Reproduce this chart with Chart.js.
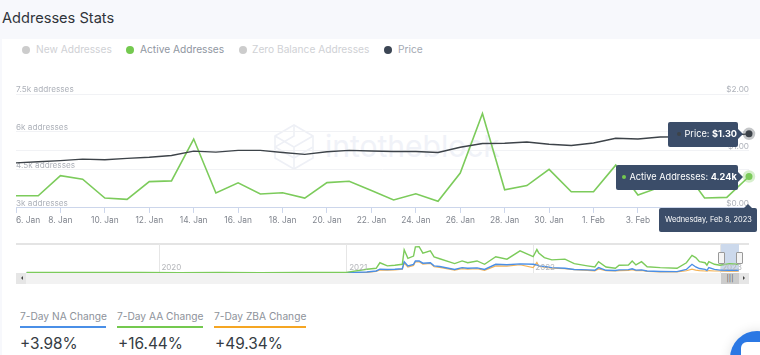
<!DOCTYPE html>
<html>
<head>
<meta charset="utf-8">
<script src="https://cdn.jsdelivr.net/npm/chart.js@4"></script>
<style>
  html, body { margin: 0; padding: 0; width: 760px; height: 355px; overflow: hidden; background: #fff;
    font-family: Inter, "Noto Sans", sans-serif; }
  .abs { position: absolute; white-space: nowrap; }
  .band { position: absolute; left: 0; top: 0; width: 760px; height: 39px; background: #f7f8fc; }
  .strip { position: absolute; left: 0; top: 0; width: 2px; height: 355px; background: #f7f8fc; }
  .title { left: 2px; top: 8px; font-size: 14.6px; line-height: 20px; color: #2f343a; }
  .leg { top: 43px; font-size: 10.2px; line-height: 13px; }
  .dot { position: absolute; top: 45.5px; width: 8px; height: 8px; border-radius: 50%; }
  .mark { left: 325px; top: 128px; font-size: 30px; line-height: 36px; color: #f0f2f8; }
  .tip { position: absolute; background: #3b4d69; border-radius: 2px; color: #fff; font-size: 9.2px;
    line-height: 24px; white-space: nowrap; box-sizing: border-box; }
  .tip b { font-weight: 700; }
  .tip:after { content: ""; position: absolute; border: 5px solid transparent; }
  .tip.r:after { left: 100%; top: 7px; border-left-color: #3b4d69; }
  .tip.u:after { right: 4px; top: -9px; border-bottom-color: #3b4d69; }
  .bul { display: inline-block; width: 4px; height: 4px; border-radius: 50%; margin-right: 4px; vertical-align: 1px; }
  canvas { position: absolute; left: 0; display: block; }
  .frame { position: absolute; left: 16px; top: 243px; width: 733px; height: 1.5px; background: #e4e4e4; }
  .sel { position: absolute; left: 721px; top: 244px; width: 18px; height: 28px; background: #ccd9ec; }
  .handle { position: absolute; top: 252px; width: 5px; height: 10px; background: #f4f4f4; border: 1px solid #999; border-radius: 1px; z-index: 3; }
  .scroll { position: absolute; left: 16px; top: 272.5px; width: 733px; height: 11px; background: #f2f2f2; }
  .sbtn { position: absolute; top: 272.5px; width: 10px; height: 11px; background: #e6e6e6; }
  .thumb { position: absolute; left: 721px; top: 272.5px; width: 18px; height: 11px; background: #cccccc;
    color: #555; font-size: 7px; line-height: 11px; text-align: center; letter-spacing: 0; }
  .tri { position: absolute; top: 275.5px; border: 2.5px solid transparent; }
  .sl { top: 309px; font-size: 10.2px; line-height: 14px; color: #8d929a; }
  .ul { position: absolute; top: 326px; height: 2px; }
  .sv { top: 333px; font-size: 15.4px; line-height: 21px; color: #363c43; }
  .bubble { position: absolute; left: 730px; top: 331px; width: 54px; height: 54px; border-radius: 50%;
    background: #2b78e4; box-shadow: 0 0 12px rgba(0,0,0,.12); }
  .bubble i { position: absolute; left: 11px; top: 11px; width: 30px; height: 26px; background: #fff; border-radius: 6px; }
</style>
</head>
<body>
<div class="band"></div>
<div class="strip"></div>
<div class="abs title">Addresses Stats</div>

<div class="dot" style="left:22px;background:#cccccc"></div>
<div class="abs leg" style="left:36px;color:#cfd1d5">New Addresses</div>
<div class="dot" style="left:126px;background:#74c94f"></div>
<div class="abs leg" style="left:140px;color:#8f96a1">Active Addresses</div>
<div class="dot" style="left:239px;background:#cccccc"></div>
<div class="abs leg" style="left:252px;color:#cfd1d5">Zero Balance Addresses</div>
<div class="dot" style="left:384px;background:#3c4654"></div>
<div class="abs leg" style="left:398px;color:#a3a9b3">Price</div>

<!-- watermark -->
<svg class="abs" style="left:274px;top:124px" width="40" height="46" viewBox="0 0 40 46" fill="none" stroke="#eef0f6" stroke-width="1.6">
  <path d="M20 1 39 12V34L20 45 1 34V12Z"/><path d="M1 12 20 23 39 12M20 23V45M20 1V12L1 23 20 34 39 23"/>
</svg>
<div class="abs mark">intotheblock</div>

<div class="frame"></div>
<div class="sel"></div>
<div class="scroll"></div>

<canvas id="main" width="760" height="149" style="top:80px"></canvas>
<canvas id="nav" width="760" height="38" style="top:235px"></canvas>

<div class="handle" style="left:718px"></div>
<div class="handle" style="left:736px"></div>
<div class="sbtn" style="left:16px"></div>
<div class="tri" style="left:18.5px;border-right-color:#444"></div>
<div class="thumb">|||</div>
<div class="sbtn" style="left:739px"></div>
<div class="tri" style="left:743px;border-left-color:#444"></div>

<div class="tip r" style="left:667.5px;top:122px;width:70px;height:25px;padding-left:9px"><span class="bul" style="background:#3d4349"></span>Price: <b>$1.30</b></div>
<div class="tip r" style="left:615.5px;top:165px;width:122px;height:25px;padding-left:6px"><span class="bul" style="background:#74c94f"></span>Active Addresses: <b>4.24k</b></div>
<div class="tip u" style="left:659px;top:208px;width:98px;height:24px;padding-left:6px;font-size:7.4px">Wednesday, Feb 8, 2023</div>

<div class="abs sl" style="left:20px">7-Day NA Change</div>
<div class="ul" style="left:20px;width:86px;background:#4a8fe7"></div>
<div class="abs sv" style="left:20px">+3.98%</div>
<div class="abs sl" style="left:117px">7-Day AA Change</div>
<div class="ul" style="left:117px;width:86px;background:#74c94f"></div>
<div class="abs sv" style="left:118px">+16.44%</div>
<div class="abs sl" style="left:214px">7-Day ZBA Change</div>
<div class="ul" style="left:214px;width:92px;background:#f5a623"></div>
<div class="abs sv" style="left:215px">+49.34%</div>

<div class="bubble"><i></i></div>

<script>
// daily window shown in the main chart
const days = ["6. Jan", "7. Jan", "8. Jan", "9. Jan", "10. Jan", "11. Jan", "12. Jan", "13. Jan", "14. Jan", "15. Jan",
  "16. Jan", "17. Jan", "18. Jan", "19. Jan", "20. Jan", "21. Jan", "22. Jan", "23. Jan", "24. Jan", "25. Jan",
  "26. Jan", "27. Jan", "28. Jan", "29. Jan", "30. Jan", "31. Jan", "1. Feb", "2. Feb", "3. Feb", "4. Feb",
  "5. Feb", "6. Feb", "7. Feb", "8. Feb"];
const activeAddresses = [3480, 3480, 4275, 4134, 3390, 3340, 4040, 4067, 5720, 3590,
  3990, 3550, 3600, 3390, 4000, 4055, 3690, 3313, 3560, 3260,
  4380, 6730, 3715, 3884, 4525, 3640, 3640, 4690, 3510, 3820,
  4600, 3390, 3415, 4240];
const price = [0.79, 0.81, 0.83, 0.857, 0.845, 0.87, 0.89, 0.92, 0.997, 0.98,
  1.01, 1.01, 0.974, 0.94, 0.985, 1.01, 1.0, 0.99, 0.99, 0.974,
  1.066, 1.13, 1.135, 1.158, 1.118, 1.095, 1.14, 1.222, 1.21, 1.245,
  1.25, 1.28, 1.27, 1.30];
const leftTicks = [3000, 4500, 6000, 7500];
const rightTicks = [0, 1, 2];

// navigator, whole history (decimal years, thousands of addresses)
const navYears = [2019.29, 2019.47, 2019.68, 2019.90, 2020.11, 2020.32, 2020.54, 2020.75, 2021.00,
  2021.11, 2021.16, 2021.18, 2021.22, 2021.26, 2021.30, 2021.31, 2021.33, 2021.36, 2021.37,
  2021.39, 2021.41, 2021.45, 2021.47, 2021.50, 2021.58, 2021.62, 2021.65, 2021.70, 2021.74,
  2021.80, 2021.86, 2021.93, 2022.00, 2022.02, 2022.03, 2022.06, 2022.10, 2022.17, 2022.22,
  2022.29, 2022.33, 2022.35, 2022.39, 2022.44, 2022.46, 2022.51, 2022.53, 2022.55, 2022.58,
  2022.61, 2022.68, 2022.77, 2022.82, 2022.85, 2022.87, 2022.89, 2022.92, 2022.93, 2022.94,
  2022.97, 2023.00, 2023.05, 2023.09, 2023.10];
const navActive = [.2, .25, .2, .25, .15, .2, .15, .2, .3,
  1.7, 2.1, 4.6, 3.2, 3.5, 3.9, 10.4, 6.6, 7.6, 11.7,
  11.8, 8.9, 9.9, 7.2, 6.4, 4.2, 5.4, 4.6, 5.4, 3.9,
  7.3, 6.2, 9.9, 7.3, 10.5, 9, 6.9, 5.9, 6.2, 4.2,
  3.2, 2.7, 5.1, 2.7, 2.1, 3.5, 3.6, 5.4, 3.6, 5.1,
  2.8, 2.4, 2.1, 4.6, 7.9, 6.9, 5.1, 4.6, 3.5, 5.1,
  3.9, 3.5, 4.2, 3.9, 4.2];
const navNew = [.1, .1, .12, .1, .12, .1, .12, .1, .15,
  .45, .9, 1.7, 1.6, 1.7, 1.9, 5.1, 3.2, 3.9, 5.4,
  5.4, 4.4, 4.6, 3.2, 2.9, 1.6, 2.4, 2.1, 2.3, 1.6,
  3.9, 3.7, 4.1, 3.9, 3.6, 3.2, 2.9, 2.4, 2.1, 1.6,
  1.4, 1.2, 2.4, 1.2, 1.1, 1.4, 1.5, 1.9, 1.3, 1.4,
  .9, .7, .6, 1.6, 3.9, 2.7, 2, 1.6, 1.2, 2.4,
  1.6, 1.3, 1.2, 1.2, 1.3];
const navZero = [.1, .1, .1, .1, .1, .1, .1, .1, .1,
  .3, .7, 1.4, 1.3, 1.4, 1.7, 4.4, 2.7, 3.4, 5.0,
  5.0, 4.0, 4.3, 2.8, 2.5, 1.3, 2.0, 1.7, 1.9, 1.2,
  3.2, 3.1, 3.7, 2.4, 4.7, 3.0, 2.6, 2.2, 1.9, 1.5,
  1.2, 1.0, 1.8, 1.0, .9, 1.1, 1.2, 1.5, 1.1, 1.2,
  .7, .5, .5, 1.0, 1.7, 1.3, 1.1, .9, .8, 1.1,
  .9, .9, .8, .8, .9];

Chart.defaults.font.family = "Inter, 'Noto Sans', sans-serif";
Chart.defaults.animation = false;
Chart.defaults.responsive = false;

const GRID = "#f1f2f5", GREEN = "#7ccb5b", DARK = "#3d4349";
const last = days.length - 1;

// chart.js paints the first dataset on top
new Chart(document.getElementById("main"), {
  type: "line",
  data: {
    labels: days,
    datasets: [
      { label: "Price", data: price, yAxisID: "yp", borderColor: DARK, borderWidth: 1.4,
        tension: 0, clip: false, backgroundColor: DARK,
        pointRadius: c => c.dataIndex === last ? 3.5 : 0, pointBackgroundColor: DARK,
        pointBorderColor: "rgba(61,67,73,.3)", pointBorderWidth: 5.5 },
      { label: "Active Addresses", data: activeAddresses, yAxisID: "y", borderColor: GREEN, borderWidth: 1.6,
        tension: 0, clip: false, backgroundColor: GREEN,
        pointRadius: c => c.dataIndex === last ? 3.5 : 0, pointBackgroundColor: GREEN,
        pointBorderColor: "rgba(124,203,91,.3)", pointBorderWidth: 5.5 },
    ],
  },
  options: {
    layout: { autoPadding: false, padding: { left: 16, right: 11, top: 14, bottom: 0 } },
    plugins: { legend: { display: false }, tooltip: { enabled: false } },
    scales: {
      x: {
        border: { color: "#ccd6eb" },
        grid: { drawOnChartArea: false, tickLength: 5, tickColor: "#ccd6eb" },
        ticks: { autoSkip: false, maxRotation: 0, align: "inner", padding: 3, color: "#80858e", font: { size: 8.4 },
          callback(v, i) { return i % 2 === 0 ? days[i] : null; } },
      },
      y: {
        position: "left", min: leftTicks[0], max: leftTicks[3],
        border: { display: false }, grid: { color: GRID, drawTicks: false },
        afterBuildTicks(a) { a.ticks = leftTicks.map(value => ({ value })); },
        ticks: { mirror: true, padding: 0, labelOffset: -4, color: "#aeb2ba", font: { size: 8.2 },
          callback: v => (v / 1000) + "k addresses" },
      },
      yp: {
        position: "right", min: rightTicks[0], max: rightTicks[2],
        border: { display: false }, grid: { color: GRID, drawTicks: false },
        afterBuildTicks(a) { a.ticks = rightTicks.map(value => ({ value })); },
        ticks: { mirror: true, padding: 0, labelOffset: -4, color: "#aeb2ba", font: { size: 8.2 },
          callback: v => "$" + v.toFixed(2) },
      },
    },
  },
});

const toXY = arr => arr.map((y, i) => ({ x: navYears[i], y }));
new Chart(document.getElementById("nav"), {
  type: "line",
  data: {
    datasets: [
      { label: "Active Addresses", data: toXY(navActive), borderColor: "#7ccb5b", borderWidth: 1.4, pointRadius: 0, tension: 0 },
      { label: "New Addresses", data: toXY(navNew), borderColor: "#4a8fe7", borderWidth: 1.4, pointRadius: 0, tension: 0 },
      { label: "Zero Balance Addresses", data: toXY(navZero), borderColor: "#f5b356", borderWidth: 1.2, pointRadius: 0, tension: 0 },
    ],
  },
  options: {
    layout: { autoPadding: false, padding: { left: 16, right: 11, top: 9, bottom: 0 } },
    plugins: { legend: { display: false }, tooltip: { enabled: false } },
    scales: {
      x: {
        type: "linear", min: 2019.233, max: 2023.155,
        border: { display: false },
        grid: { color: "#e6e6e6", tickLength: 0 },
        afterBuildTicks(a) { a.ticks = [2020, 2021, 2022, 2023].map(value => ({ value })); },
        ticks: { z: 1, autoSkip: false, maxRotation: 0, labelOffset: 12, padding: -10, color: "#b4b6ba", font: { size: 8 },
          callback: v => String(v) },
      },
      y: { display: false, min: 0, max: 13 },
    },
  },
});
</script>
</body>
</html>
